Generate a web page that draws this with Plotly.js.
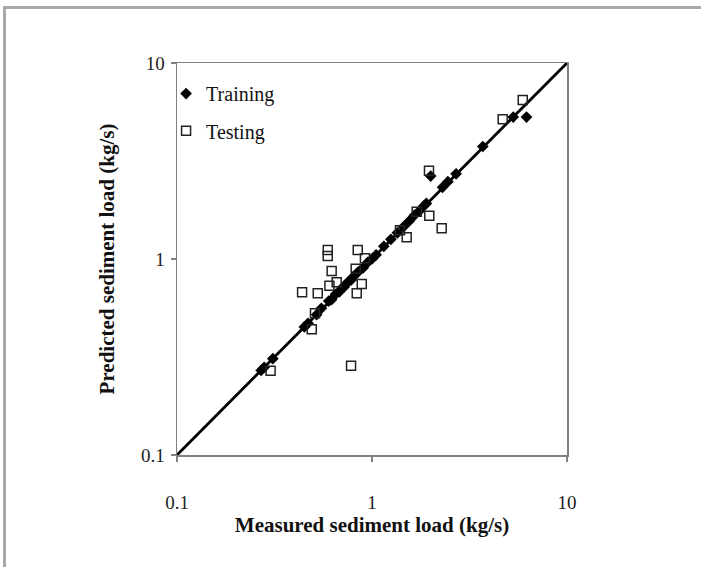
<!DOCTYPE html>
<html>
<head>
<meta charset="utf-8">
<script src="https://cdn.plot.ly/plotly-3.0.1.min.js"></script>
<style>
  html, body { margin: 0; padding: 0; background: #fff; }
  #frame { position: absolute; left: 3px; top: 6px; width: 710px; height: 580px;
           border-left: 3px solid #a9a9a9; border-top: 3px solid #a9a9a9; box-sizing: border-box; }
  #chart { position: absolute; left: 0; top: 0; width: 701px; height: 567px; }
</style>
</head>
<body>
<div id="frame"></div>
<div id="chart"></div>
<script>
// Training data (measured, predicted)
const trainMeasured  = [0.27, 0.28, 0.31, 0.45, 0.47, 0.52, 0.55, 0.60, 0.62, 0.65, 0.68, 0.70, 0.72, 0.75, 0.78, 0.80, 0.85, 0.90, 0.95, 1.00, 1.05, 1.15, 1.25, 1.35, 1.45, 1.55, 1.65, 1.75, 1.85, 1.90, 2.00, 2.30, 2.45, 2.70, 3.70, 5.30, 6.20];
const trainPredicted = [0.27, 0.28, 0.31, 0.45, 0.47, 0.52, 0.56, 0.61, 0.62, 0.66, 0.68, 0.71, 0.72, 0.76, 0.78, 0.81, 0.86, 0.90, 0.96, 1.00, 1.05, 1.16, 1.26, 1.36, 1.46, 1.56, 1.67, 1.76, 1.87, 1.92, 2.65, 2.32, 2.48, 2.72, 3.75, 5.30, 5.30];
// Testing data (measured, predicted)
const testMeasured  = [0.593, 0.593, 0.845, 0.92, 0.621, 0.825, 0.659, 0.605, 0.886, 0.835, 0.438, 0.527, 0.510, 0.491, 0.302, 0.781, 1.695, 1.967, 2.277, 1.506, 1.392, 1.96, 4.68, 5.93];
const testPredicted = [1.111, 1.036, 1.111, 1.01, 0.868, 0.892, 0.761, 0.731, 0.745, 0.668, 0.676, 0.668, 0.528, 0.438, 0.269, 0.285, 1.743, 1.663, 1.434, 1.291, 1.40, 2.82, 5.16, 6.48];
// 1:1 line
const lineX = [0.1, 10];
const lineY = [0.1, 10];
const tickVals = [0.1, 1, 10];
const tickText = ['0.1', '1', '10'];

const serif = 'Liberation Serif, Times New Roman, serif';

const traces = [
  { x: lineX, y: lineY, mode: 'lines', line: { color: '#000', width: 2.8 }, showlegend: false, hoverinfo: 'skip' },
  { x: trainMeasured, y: trainPredicted, mode: 'markers', name: 'Training', legend: 'legend',
    marker: { symbol: 'diamond', size: 9, color: '#000', line: { width: 0 } } },
  { x: testMeasured, y: testPredicted, mode: 'markers', name: 'Testing', legend: 'legend2',
    marker: { symbol: 'square-open', size: 9, color: '#222', line: { width: 1.5, color: '#222' } } }
];

const axisCommon = {
  type: 'log', range: [-1, 1], tickvals: tickVals, ticktext: tickText,
  showgrid: false, zeroline: false, showline: true, mirror: true,
  linecolor: '#808080', linewidth: 1.5, ticks: 'outside', ticklen: 5, tickcolor: '#808080', tickwidth: 1.5,
  tickfont: { family: serif, size: 19, color: '#222' }
};

const layout = {
  width: 701, height: 567,
  margin: { l: 177, r: 134, t: 63, b: 112 },
  paper_bgcolor: 'rgba(0,0,0,0)', plot_bgcolor: '#fff',
  font: { family: serif, color: '#111' },
  xaxis: Object.assign({}, axisCommon, {
    ticklabelstandoff: 25,
    title: { text: '<b>Measured sediment load (kg/s)</b>', font: { family: serif, size: 21, color: '#111' }, standoff: 2 }
  }),
  yaxis: Object.assign({}, axisCommon, {
    ticklabelstandoff: 2,
    title: { text: '<b>Predicted sediment load (kg/s)</b>', font: { family: serif, size: 21, color: '#111' }, standoff: 20 }
  }),
  legend: { x: -0.028, y: 0.922, xanchor: 'left', yanchor: 'middle', bgcolor: 'rgba(0,0,0,0)',
            font: { family: serif, size: 20, color: '#111' } },
  legend2: { x: -0.028, y: 0.827, xanchor: 'left', yanchor: 'middle', bgcolor: 'rgba(0,0,0,0)',
            font: { family: serif, size: 20, color: '#111' } },
  showlegend: true
};

Plotly.newPlot('chart', traces, layout, { displayModeBar: false, staticPlot: true });
</script>
</body>
</html>
